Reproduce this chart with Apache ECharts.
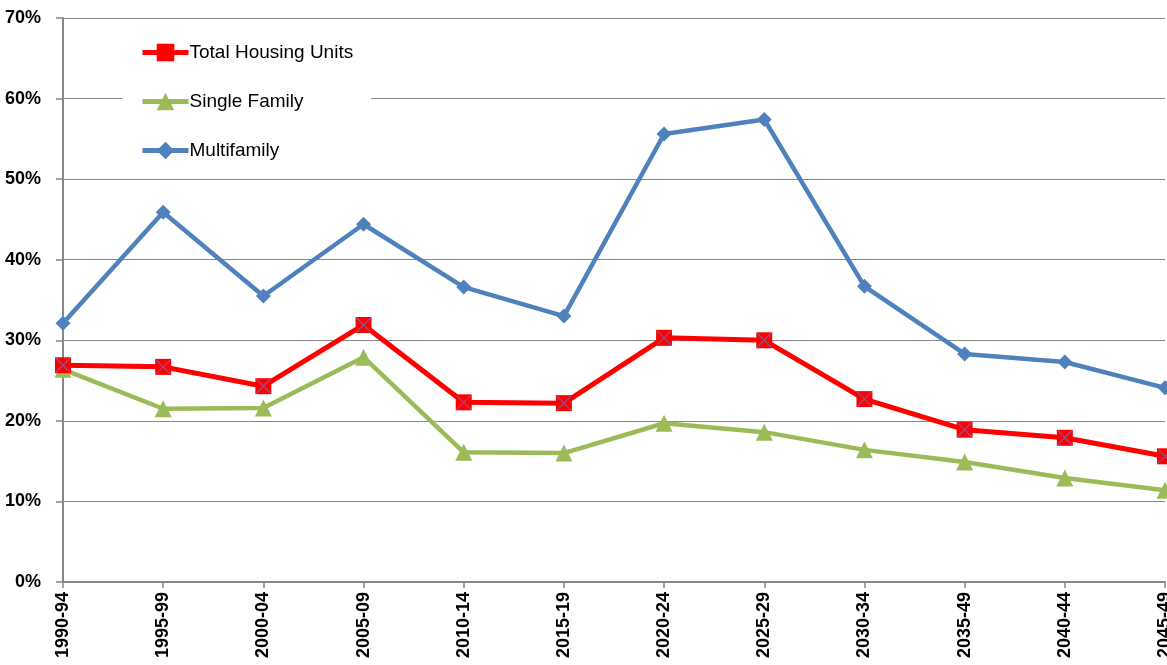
<!DOCTYPE html>
<html>
<head>
<meta charset="utf-8">
<script src="https://cdn.jsdelivr.net/npm/echarts@6/dist/echarts.min.js"></script>
<style>
  html, body { margin: 0; padding: 0; background: #fff; }
  #chart { width: 1167px; height: 665px; }
</style>
</head>
<body>
<div id="chart"></div>
<script>
// Five-year periods along the x axis
const periods = ['1990-94', '1995-99', '2000-04', '2005-09', '2010-14', '2015-19',
                 '2020-24', '2025-29', '2030-34', '2035-49', '2040-44', '2045-49'];

// Shares in percent
const totalHousing = [26.9, 26.7, 24.3, 31.9, 22.3, 22.2, 30.3, 30.0, 22.7, 18.9, 17.9, 15.6];
const singleFamily = [26.4, 21.5, 21.6, 27.9, 16.1, 16.0, 19.7, 18.6, 16.4, 14.9, 12.9, 11.4];
const multifamily  = [32.1, 45.9, 35.5, 44.4, 36.6, 33.0, 55.6, 57.4, 36.7, 28.3, 27.3, 24.1];

const FONT = '"Liberation Sans", Arial, sans-serif';
const AXIS_GREY = '#878787';
const crossPath = 'path://M0,0 L10,10 M10,0 L0,10';

const chart = echarts.init(document.getElementById('chart'), null, { renderer: 'canvas' });

chart.setOption({
  animation: false,
  backgroundColor: '#ffffff',
  grid: { left: 63, right: 2, top: 18, bottom: 83, containLabel: false, outerBoundsMode: 'none' },
  legend: {
    data: ['Total Housing Units', 'Single Family', 'Multifamily'],
    orient: 'vertical',
    left: 122,
    top: 37,
    padding: [6, 18, 6, 18],
    backgroundColor: '#ffffff',
    itemWidth: 46,
    itemHeight: 22,
    itemGap: 30,
    lineStyle: { width: 5 },
    textStyle: { fontFamily: FONT, fontSize: 19, color: '#000', padding: [0, 0, 0, -4] }
  },
  xAxis: {
    type: 'category',
    data: periods,
    boundaryGap: false,
    axisLine: { lineStyle: { color: AXIS_GREY, width: 2 } },
    axisTick: { alignWithLabel: true, length: 6, lineStyle: { color: AXIS_GREY, width: 1.5 } },
    axisLabel: {
      rotate: 90,
      interval: 0,
      margin: 10,
      fontFamily: FONT,
      fontSize: 18,
      fontWeight: 'bold',
      color: '#000'
    }
  },
  yAxis: {
    type: 'value',
    min: 0,
    max: 70,
    interval: 10,
    axisLine: { show: true, lineStyle: { color: AXIS_GREY, width: 2 } },
    axisTick: { show: true, length: 7, lineStyle: { color: AXIS_GREY, width: 1.5 } },
    splitLine: { lineStyle: { color: AXIS_GREY, width: 1.2 } },
    axisLabel: {
      formatter: '{value}%',
      margin: 22,
      fontFamily: FONT,
      fontSize: 18,
      fontWeight: 'bold',
      color: '#000'
    }
  },
  series: [
    {
      name: 'Multifamily',
      type: 'line',
      data: multifamily,
      symbol: 'diamond',
      symbolSize: 15,
      z: 3,
      itemStyle: { color: '#4f81bd' },
      lineStyle: { color: '#4f81bd', width: 4.5 }
    },
    {
      name: 'Single Family',
      type: 'line',
      data: singleFamily,
      symbol: 'triangle',
      symbolSize: 17,
      z: 4,
      itemStyle: { color: '#9bbb59' },
      lineStyle: { color: '#9bbb59', width: 4.5 }
    },
    {
      name: 'Total Housing Units',
      type: 'line',
      data: totalHousing,
      symbol: 'rect',
      symbolSize: 16,
      z: 5,
      itemStyle: { color: '#ff0000' },
      lineStyle: { color: '#ff0000', width: 5 }
    },
    {
      // the X drawn across each red square
      name: 'Total Housing Units cross',
      type: 'scatter',
      data: totalHousing,
      symbol: crossPath,
      symbolSize: 14,
      z: 6,
      silent: true,
      itemStyle: { color: 'rgba(0,0,0,0)', borderColor: '#6a6ab8', borderWidth: 1.2 }
    }
  ]
});
</script>
</body>
</html>
